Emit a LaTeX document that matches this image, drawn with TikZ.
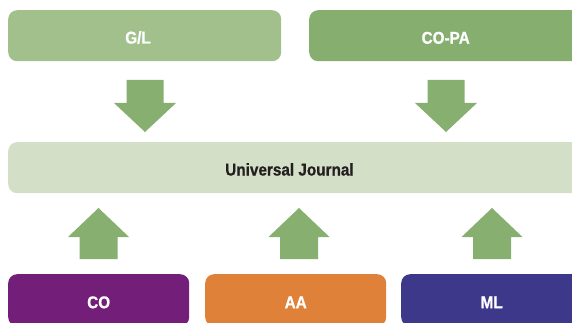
\documentclass[tikz,border=0pt]{standalone}
\usepackage{fontspec}
\setmainfont{Liberation Sans}[FakeStretch=0.9, BoldFeatures={FakeBold=0.8}]
\usepackage{tikz}
\usetikzlibrary{positioning}

\definecolor{glgreen}{HTML}{A2C08C}
\definecolor{copagreen}{HTML}{85AE6F}
\definecolor{arrowgreen}{HTML}{86AF70}
\definecolor{ujgreen}{HTML}{D3DFC6}
\definecolor{copurple}{HTML}{731F79}
\definecolor{aaorange}{HTML}{DF8138}
\definecolor{mlblue}{HTML}{3D388A}
\definecolor{ujtext}{HTML}{231F20}

\tikzset{
  labelfont/.style={font=\bfseries\fontsize{17}{20}\selectfont, text height=16pt, text depth=0pt},
  box/.style={rectangle, rounded corners=9pt, inner sep=0pt, anchor=north west,
    labelfont, text=white},
  downarrow/.pic={\fill[arrowgreen] (-18.5,0) -- (18.5,0) -- (18.5,23) -- (31,23)
    -- (0,52) -- (-31,23) -- (-18.5,23) -- cycle;},
  uparrow/.pic={\fill[arrowgreen] (0,0) -- (30.5,29) -- (19,29) -- (19,51)
    -- (-19,51) -- (-19,29) -- (-30.5,29) -- cycle;}
}

\begin{document}
\begin{tikzpicture}[x=1pt, y=-1pt]
\useasboundingbox (0,0) rectangle (572,323);
\clip (0,0) rectangle (572,323);

% sources on top
\node[box, fill=glgreen, minimum width=273pt, minimum height=51pt] (gl) at (8,10) {};
\node[labelfont, text=white, inner sep=0pt] (gllabel) at (138,35.5) {G/L};
\node[box, fill=copagreen, minimum width=273pt, minimum height=51pt] (copa) at (309,10) {CO-PA};

% the journal
\node[box, fill=ujgreen, minimum width=575pt, minimum height=51pt] (uj) at (8,142) {};
\node[labelfont, text=ujtext, inner sep=0pt] (ujlabel) at (289.5,167.5) {Universal Journal};

% components at the bottom
\node[box, fill=copurple, minimum width=181pt, minimum height=52pt] (co) at (8,274) {CO};
\node[box, fill=aaorange, minimum width=181pt, minimum height=52pt] (aa) at (205,274) {AA};
\node[box, fill=mlblue, minimum width=181pt, minimum height=52pt] (ml) at (401,274) {ML};

% block arrows
\pic at (145,80) {downarrow};
\pic at (446,80) {downarrow};
\pic at (98.5,208) {uparrow};
\pic at (299,208) {uparrow};
\pic at (492,208) {uparrow};
\end{tikzpicture}
\end{document}
